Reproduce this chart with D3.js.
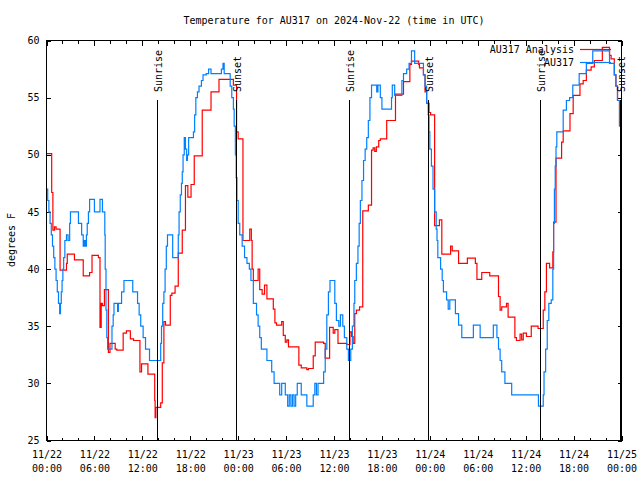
<!DOCTYPE html>
<html><head><meta charset="utf-8">
<script src="https://cdn.jsdelivr.net/npm/d3@7"></script>
<style>
html,body{margin:0;padding:0;background:#fff;}
text{font-family:"DejaVu Sans Mono",monospace;font-size:10px;fill:#000;}
</style></head>
<body><svg id="c" width="640" height="480"></svg>
<script>
// ---- data (hours since 2024-11-22 00:00 UTC, degrees F) ----
const obsHours = [0,0.15,0.3,0.45,0.6,0.75,0.9,1.05,1.2,1.35,1.5,1.65,1.75,1.85,1.95,2.05,2.15,2.3,2.5,2.7,2.9,3.0,4.0,4.4,4.6,4.75,4.85,5.0,5.1,5.25,5.4,6.0,6.7,7.0,7.3,7.35,7.45,7.55,7.65,8.2,8.35,8.45,8.9,9.0,9.4,9.7,10.8,11.4,11.6,11.8,12.1,12.4,12.9,14.3,14.4,14.55,14.7,14.85,15.0,15.15,15.8,16.5,16.6,16.75,16.9,17.0,17.1,17.25,17.4,17.55,17.65,17.8,18.4,18.55,18.7,18.9,19.1,19.4,19.6,20.0,20.3,20.6,21.9,22.1,22.25,23.0,23.2,23.4,23.5,23.65,23.75,23.85,24.0,24.2,24.5,24.8,25.1,25.4,25.6,25.9,26.3,26.5,26.7,26.9,27.6,28.2,28.5,29.2,29.45,29.9,30.2,30.4,30.6,30.8,31.0,31.2,31.4,31.9,32.6,33.4,33.6,33.8,34.0,34.7,34.9,35.1,35.3,35.5,36.1,36.3,36.6,36.8,37.1,37.3,37.6,37.8,38.1,38.3,38.5,38.6,38.8,39.0,39.15,39.3,39.5,39.7,39.9,40.1,40.3,40.5,40.7,41.35,41.5,41.8,42.0,43.2,43.3,43.6,44.5,44.7,45.1,45.4,45.7,46.1,47.2,47.4,47.6,47.8,47.9,48.0,48.2,48.4,48.6,48.8,48.9,49.0,49.35,49.55,49.7,50.1,50.3,50.5,51.2,51.6,52.0,53.45,54.3,55.95,56.4,56.6,56.8,57.0,57.4,58.25,61.6,62.2,62.3,62.5,62.7,62.9,63.2,63.4,63.5,63.6,63.7,63.8,63.9,64.7,65.1,65.5,65.9,66.7,67.6,68.4,70.5,71.1,71.3,71.5,71.75,71.85,71.92];
const obsTemps = [47.0,46.0,45.0,44.0,43.0,42.0,41.0,40.0,39.0,38.0,37.0,36.1,37.0,38.0,39.0,40.0,41.0,42.5,43.0,42.5,44.0,45.0,44.0,43.0,42.0,42.5,42.0,43.0,44.0,45.0,46.1,45.0,46.1,45.0,43.0,40.0,36.4,34.0,33.0,35.0,36.0,37.0,36.3,37.0,38.0,39.0,38.0,37.0,36.0,35.0,34.0,33.0,32.0,33.5,35.0,37.0,38.0,40.0,42.0,43.0,41.0,43.0,45.0,46.5,47.5,48.5,50.0,51.5,50.5,49.5,50.0,51.5,52.0,53.5,55.0,55.5,56.0,56.5,57.0,57.1,57.5,57.1,57.5,58.0,57.1,56.0,55.0,54.0,52.5,50.0,48.0,46.0,44.0,43.0,42.0,41.0,40.5,40.0,39.0,37.0,36.0,35.0,34.0,33.0,32.0,31.0,30.0,29.0,30.0,29.0,28.0,29.0,28.0,29.0,28.0,29.0,30.0,29.0,28.0,29.0,30.0,29.0,30.0,31.0,33.0,36.0,38.0,39.0,37.0,35.5,35.0,36.0,35.0,34.0,33.0,32.0,33.0,35.0,37.0,39.0,40.5,42.0,44.0,46.0,47.75,49.5,50.5,51.5,53.0,55.0,56.1,55.5,56.1,55.0,54.0,55.0,56.1,55.2,56.5,57.1,57.5,58.0,59.1,58.0,57.0,56.0,54.5,53.5,52.0,50.5,49.0,47.0,45.0,43.5,42.5,41.0,40.0,39.0,38.0,37.3,36.5,37.3,36.1,35.1,34.0,35.1,34.0,35.1,34.0,33.0,32.0,31.0,30.0,29.0,28.0,29.0,31.0,33.0,35.5,37.0,37.3,40.0,44.0,47.0,49.0,50.7,52.0,53.9,54.75,55.0,56.1,57.1,58.0,59.1,58.0,57.0,56.0,54.75,52.5,53.5,53.5];

const anaHours = [0,0.65,0.8,1.0,1.2,1.7,2.5,2.6,3.5,4.6,5.4,5.7,6.5,6.7,6.85,7.0,7.25,7.75,7.95,8.6,8.8,9.6,10.0,10.5,10.9,11.7,11.9,12.7,13.55,13.6,13.7,14.3,14.5,14.7,14.9,15.5,15.7,16.1,16.5,17.0,17.4,17.7,18.1,18.5,19.5,20.6,21.6,23.4,23.8,24.0,24.6,25.45,25.65,25.75,25.9,26.5,26.7,27.0,27.3,27.6,28.4,28.6,28.8,29.45,29.65,29.9,30.1,30.3,31.6,31.9,32.6,32.8,33.4,33.65,34.7,34.9,35.45,35.9,36.1,36.5,37.6,38.0,38.2,38.4,38.6,38.8,39.2,39.6,40.3,40.7,40.9,41.1,41.3,41.6,41.8,42.6,43.7,44.7,45.5,45.7,46.6,46.7,47.2,47.4,47.6,47.9,48.1,48.6,49.2,49.5,50.6,50.8,51.6,52.7,53.7,53.9,54.5,55.5,56.6,56.8,57.0,57.6,57.8,58.65,58.85,59.3,59.5,59.7,60.1,60.7,61.55,62.2,62.4,62.6,63.0,63.4,63.5,63.8,64.5,64.7,65.55,65.95,66.8,67.2,67.6,68.2,68.6,69.6,70.5,70.7,71.1,71.3,71.5,71.75,71.92];
const anaTemps = [50.1,46.7,43.4,43.7,43.5,39.9,40.5,41.3,40.8,39.4,39.7,41.2,41.0,34.9,37.0,36.8,38.2,32.7,33.5,33.0,32.9,34.4,34.6,33.9,33.75,31.0,31.7,30.8,28.5,27.0,27.9,28.3,31.8,35.4,35.1,37.7,37.9,38.5,41.4,43.4,47.3,46.3,47.4,49.9,53.9,55.5,56.6,56.1,52.0,51.4,42.5,43.5,42.5,40.0,39.0,40.0,38.2,37.8,38.6,37.4,36.5,35.3,35.1,35.4,34.2,33.6,33.8,33.2,31.6,31.35,31.2,31.3,32.4,33.6,33.5,32.2,34.9,34.4,34.7,33.5,33.4,34.5,34.1,33.5,36.1,36.4,36.7,45.1,45.6,50.4,50.6,50.3,50.7,51.25,51.4,53.0,55.3,56.4,57.9,58.2,57.9,57.6,57.0,55.5,54.5,53.7,53.5,43.8,44.3,41.3,42.0,41.6,40.5,40.95,40.5,39.1,39.7,39.4,37.6,36.4,36.7,37.0,35.8,34.0,33.75,34.3,33.8,34.4,34.1,35.0,34.8,36.4,38.0,40.5,40.1,41.5,44.1,49.7,51.1,52.1,53.6,55.2,56.2,56.5,57.4,57.7,58.25,59.4,58.7,58.4,57.0,56.0,54.75,52.6,52.6];

const sunEvents = ["2024-11-22T13:53Z","2024-11-22T23:45Z","2024-11-23T13:50Z","2024-11-23T23:47Z","2024-11-24T13:51Z","2024-11-24T23:46Z"];
const sunLabels = ["Sunrise","Sunset","Sunrise","Sunset","Sunrise","Sunset"];
const yTicks = [25,30,35,40,45,50,55,60];
const seriesNames = ["AU317 Analysis","AU317"];
const seriesColors = ["#ff0000","#0080ff"];
const titleText = "Temperature for AU317 on 2024-Nov-22 (time in UTC)";
const yTitle = "degrees F";

// ---- chart ----
const t0 = Date.UTC(2024,10,22);
const toDate = h => new Date(t0 + h*3600e3);
const L=46.5, R=621.5, T=40.5, B=440.5;
const svg = d3.select("#c");
const x = d3.scaleUtc().domain([toDate(0), toDate(72)]).range([L,R]);
const y = d3.scaleLinear().domain([25,60]).range([B,T]);

svg.append("text").attr("x",(L+R)/2).attr("y",24).attr("text-anchor","middle").text(titleText);
svg.append("text").attr("transform","translate(15,240) rotate(-90)").attr("text-anchor","middle").text(yTitle);

// axes
const major = d3.utcHour.every(6), minor = d3.utcHour.every(2);
const fmtD = d3.utcFormat("%m/%d"), fmtT = d3.utcFormat("%H:%M");
const bx = svg.append("g").attr("transform",`translate(0,${B})`)
  .call(d3.axisBottom(x).ticks(minor).tickSize(-3).tickFormat(""));
const bxM = svg.append("g").attr("transform",`translate(0,${B})`)
  .call(d3.axisBottom(x).ticks(major).tickSize(-5).tickPadding(8).tickFormat(""));
bxM.selectAll(".tick text").remove();
bxM.selectAll(".tick").append("text").attr("text-anchor","middle").attr("y",17)
  .each(function(d){
    const t=d3.select(this);
    t.append("tspan").attr("x",0).attr("dy",0).text(fmtD(d));
    t.append("tspan").attr("x",0).attr("dy",14).text(fmtT(d));
  });
svg.append("g").attr("transform",`translate(0,${T})`)
  .call(d3.axisTop(x).ticks(minor).tickSize(-3).tickFormat(""));
svg.append("g").attr("transform",`translate(0,${T})`)
  .call(d3.axisTop(x).ticks(major).tickSize(-5).tickFormat(""));
svg.append("g").attr("transform",`translate(${L},0)`)
  .call(d3.axisLeft(y).tickValues(yTicks).tickSize(-4).tickPadding(7));
svg.append("g").attr("transform",`translate(${R},0)`)
  .call(d3.axisRight(y).tickValues(yTicks).tickSize(-4).tickFormat(""));
svg.selectAll(".domain").remove();
svg.selectAll(".tick line").attr("stroke","#000").attr("shape-rendering","crispEdges");
svg.selectAll("g text").attr("font-family",null).attr("font-size",null);

// lines
const line = d3.line().x(d=>x(toDate(d[0]))).y(d=>y(d[1])).curve(d3.curveStepAfter);
const ana = anaHours.map((h,i)=>[h,anaTemps[i]]);
const obs = obsHours.map((h,i)=>[h,obsTemps[i]]);
[ana,obs].forEach((s,i)=>{
  svg.append("path").datum(s).attr("d",line).attr("fill","none")
    .attr("stroke",seriesColors[i]).attr("stroke-width",1.2);
});

// sunrise / sunset
sunEvents.forEach((s,i)=>{
  const xx = Math.round(x(new Date(s)))+0.5;
  svg.append("line").attr("x1",xx).attr("x2",xx).attr("y1",100).attr("y2",B)
    .attr("stroke","#000").attr("stroke-width",1).attr("shape-rendering","crispEdges");
  svg.append("text").attr("transform",`translate(${xx+4},92) rotate(-90)`).text(sunLabels[i]);
});

// legend
seriesNames.forEach((n,i)=>{
  const yy = 49.5 + i*13;
  svg.append("text").attr("x",574).attr("y",yy+3.5).attr("text-anchor","end").text(n);
  svg.append("line").attr("x1",580).attr("x2",611).attr("y1",yy).attr("y2",yy)
    .attr("stroke",seriesColors[i]).attr("stroke-width",1.2);
});

// border
svg.append("rect").attr("x",L).attr("y",T).attr("width",R-L).attr("height",B-T)
  .attr("fill","none").attr("stroke","#000").attr("shape-rendering","crispEdges");
</script></body></html>
